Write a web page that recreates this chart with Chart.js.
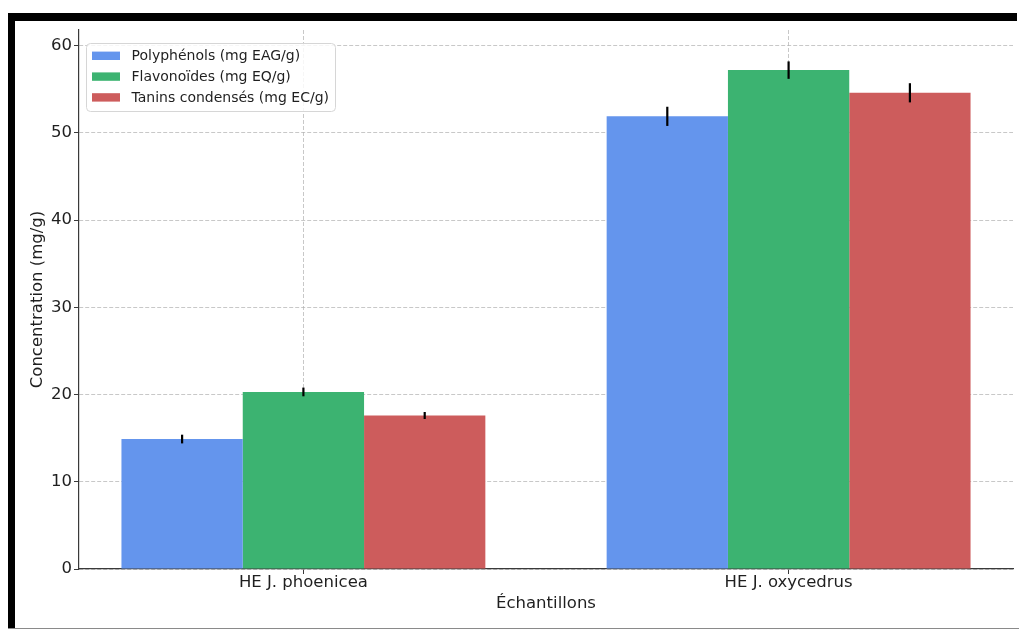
<!DOCTYPE html>
<html>
<head>
<meta charset="utf-8">
<title>Concentration par échantillon</title>
<script src="https://cdn.jsdelivr.net/npm/chart.js@4.4.1/dist/chart.umd.min.js"></script>
<style>
  html, body { margin: 0; padding: 0; background: #fff; }
  #wrap { position: relative; width: 1019px; height: 630px; overflow: hidden; background: #fff; }
  #wrap canvas { position: absolute; left: 0; top: 0; }
  .band { position: absolute; background: #000; }
</style>
</head>
<body>
<div id="wrap">
  <canvas id="chart" width="1019" height="630"></canvas>
  <div class="band" style="left:8px;top:13px;width:1009px;height:8px"></div>
  <div class="band" style="left:8px;top:13px;width:7px;height:616px"></div>
  <div class="band" style="left:8px;top:628px;width:1011px;height:1px;background:#8a8a8a"></div>
</div>
<script>
// Samples on the x axis
const samples = ['HE J. phoenicea', 'HE J. oxycedrus'];

// Series names
const seriesNames = ['Polyphénols (mg EAG/g)', 'Flavonoïdes (mg EQ/g)', 'Tanins condensés (mg EC/g)'];

// Mean contents (mg/g) per sample
const polyphenols = [14.9, 51.9];
const flavonoids  = [20.3, 57.2];
const tannins     = [17.6, 54.6];

// Standard deviations per sample
const polyphenolsErr = [0.5, 1.1];
const flavonoidsErr  = [0.5, 1.0];
const tanninsErr     = [0.4, 1.1];

// Y axis ticks
const yTicks = [0, 10, 20, 30, 40, 50, 60];

const seriesColors = ['#6495ED', '#3CB371', '#CD5C5C'];
const textColor = '#1f1f1f';
const axisColor = '#3a3a3a';
const gridColor = 'rgba(176,176,176,0.7)';
const axisFont = { family: '"DejaVu Sans", sans-serif', size: 16.5 };

Chart.defaults.font.family = '"DejaVu Sans", sans-serif';
Chart.defaults.font.size = 14;
Chart.defaults.color = textColor;

const seriesValues = [polyphenols, flavonoids, tannins];
const seriesErrors = [polyphenolsErr, flavonoidsErr, tanninsErr];

const datasets = seriesNames.map((name, i) => ({
  label: name,
  data: samples.map((s, j) => ({ x: j, y: seriesValues[i][j] })),
  errors: seriesErrors[i],
  backgroundColor: seriesColors[i],
  borderWidth: 0,
  categoryPercentage: 0.75,
  barPercentage: 1.0
}));

// Vertical error bars drawn from each bar's own value and deviation
const errorBars = {
  id: 'errorBars',
  afterDraw(chart) {
    const ctx = chart.ctx;
    const yScale = chart.scales.y;
    ctx.save();
    ctx.strokeStyle = '#000';
    ctx.lineWidth = 2.2;
    chart.data.datasets.forEach((ds, i) => {
      const meta = chart.getDatasetMeta(i);
      meta.data.forEach((bar, j) => {
        const v = ds.data[j].y;
        const e = ds.errors[j];
        const top = yScale.getPixelForValue(v + e);
        const bottom = yScale.getPixelForValue(v - e);
        ctx.beginPath();
        ctx.moveTo(bar.x, top);
        ctx.lineTo(bar.x, bottom);
        ctx.stroke();
      });
    });
    ctx.restore();
  }
};

// Boxed legend in the upper-left corner of the plot
const legendBox = {
  id: 'legendBox',
  afterDraw(chart) {
    const ctx = chart.ctx;
    const area = chart.chartArea;
    const x0 = area.left + 7;
    const y0 = area.top + 13;
    const w = 249, h = 68;
    ctx.save();
    ctx.beginPath();
    ctx.roundRect(x0 + 0.5, y0 + 0.5, w, h, 4);
    ctx.fillStyle = 'rgba(255,255,255,0.85)';
    ctx.fill();
    ctx.strokeStyle = '#d6d6d6';
    ctx.lineWidth = 1;
    ctx.stroke();
    ctx.font = '14px "DejaVu Sans", sans-serif';
    ctx.textBaseline = 'middle';
    chart.data.datasets.forEach((ds, i) => {
      const cy = y0 + 12.8 + i * 20.8;
      ctx.fillStyle = ds.backgroundColor;
      ctx.fillRect(x0 + 6, cy - 4.2, 28, 8.4);
      ctx.fillStyle = textColor;
      ctx.fillText(ds.label, x0 + 45.5, cy + 0.5);
    });
    ctx.restore();
  }
};

new Chart(document.getElementById('chart'), {
  type: 'bar',
  data: { datasets },
  plugins: [errorBars, legendBox],
  options: {
    responsive: false,
    animation: false,
    devicePixelRatio: 1,
    layout: { padding: { left: 0, top: 30, right: 6, bottom: 0 } },
    plugins: {
      legend: { display: false },
      tooltip: { enabled: false }
    },
    scales: {
      x: {
        type: 'linear',
        min: -0.4625,
        max: 1.4625,
        bounds: 'data',
        offset: false,
        z: 1,
        afterBuildTicks(scale) {
          scale.ticks = samples.map((s, i) => ({ value: i }));
        },
        afterFit(scale) { scale.height = 61; },
        ticks: {
          color: textColor,
          font: axisFont,
          padding: -1,
          maxRotation: 0,
          autoSkip: false,
          callback: (value) => samples[value] ?? ''
        },
        grid: {
          offset: false,
          color: gridColor,
          lineWidth: 1,
          tickLength: 5,
          tickColor: axisColor,
          tickWidth: 1,
          tickBorderDash: []
        },
        border: { display: true, color: axisColor, width: 1.2, dash: [4, 2] },
        title: {
          display: true,
          text: 'Échantillons',
          color: textColor,
          font: axisFont,
          padding: { top: 0, bottom: 16.5 }
        }
      },
      y: {
        type: 'linear',
        min: 0,
        max: 61.8,
        bounds: 'data',
        z: 1,
        afterBuildTicks(scale) {
          scale.ticks = yTicks.map(v => ({ value: v }));
        },
        afterFit(scale) { scale.width = 79; },
        ticks: { color: textColor, font: axisFont, padding: 2 },
        grid: {
          color: gridColor,
          lineWidth: 1,
          tickLength: 5,
          tickColor: axisColor,
          tickWidth: 1,
          tickBorderDash: []
        },
        border: { display: true, color: axisColor, width: 1.2, dash: [4, 2] },
        title: {
          display: true,
          text: 'Concentration (mg/g)',
          color: textColor,
          font: axisFont,
          padding: { top: 28, bottom: 0 }
        }
      }
    }
  }
});
</script>
</body>
</html>
